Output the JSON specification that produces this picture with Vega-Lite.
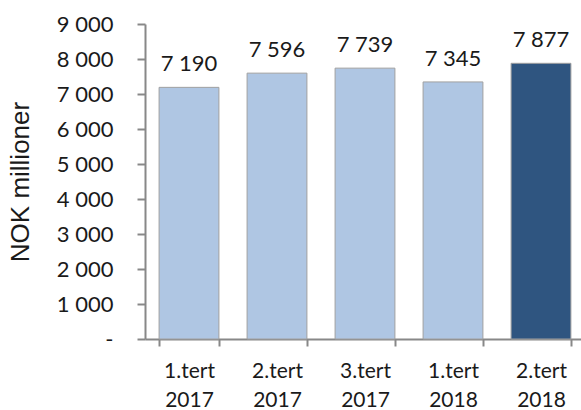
{
  "$schema": "https://vega.github.io/schema/vega-lite/v6.json",
  "width": 440,
  "height": 315,
  "autosize": {"type": "none"},
  "padding": {"left": 145, "top": 24, "right": 0, "bottom": 71},
  "background": "white",
  "config": {
    "view": {"stroke": null},
    "locale": {"number": {"decimal": ",", "thousands": " ", "grouping": [3], "currency": ["", " kr"]}},
    "font": "Lato"
  },
  "data": {
    "values": [
      {"periode": "1.tert 2017", "verdi": 7190, "siste": "nei"},
      {"periode": "2.tert 2017", "verdi": 7596, "siste": "nei"},
      {"periode": "3.tert 2017", "verdi": 7739, "siste": "nei"},
      {"periode": "1.tert 2018", "verdi": 7345, "siste": "nei"},
      {"periode": "2.tert 2018", "verdi": 7877, "siste": "ja"}
    ]
  },
  "encoding": {
    "x": {
      "field": "periode",
      "type": "nominal",
      "sort": null,
      "scale": {"paddingInner": 0.32, "paddingOuter": 0.16},
      "axis": {
        "title": null,
        "labelAngle": 0,
        "labelExpr": "isValid(datum.value) ? split(datum.value, ' ') : ''",
        "labelFontSize": 21,
        "labelColor": "#1a1a1a",
        "labelLineHeight": 29,
        "labelPadding": 14,
        "labelBaseline": "top",
        "domainColor": "#888888",
        "domainWidth": 2,
        "tickColor": "#888888",
        "tickWidth": 2,
        "tickSize": 7,
        "tickBand": "extent"
      }
    },
    "y": {
      "field": "verdi",
      "type": "quantitative",
      "scale": {"domain": [0, 9000], "nice": false},
      "axis": {
        "title": "NOK millioner",
        "titleFont": "Liberation Sans",
        "titleFontSize": 26,
        "titleFontWeight": "normal",
        "titleColor": "#1a1a1a",
        "titlePadding": 23,
        "values": [0, 1000, 2000, 3000, 4000, 5000, 6000, 7000, 8000, 9000],
        "format": ",d",
        "labelExpr": "datum.value == 0 ? '-' : datum.label",
        "labelFontSize": 22,
        "labelColor": "#1a1a1a",
        "labelPadding": 24,
        "grid": false,
        "domainColor": "#888888",
        "domainWidth": 2,
        "tickColor": "#888888",
        "tickWidth": 2,
        "tickSize": 8
      }
    }
  },
  "layer": [
    {
      "mark": {"type": "bar", "stroke": "#a0a0a0", "strokeWidth": 1},
      "encoding": {
        "color": {
          "field": "siste",
          "type": "nominal",
          "scale": {"domain": ["nei", "ja"], "range": ["#afc6e3", "#2f5580"]},
          "legend": null
        }
      }
    },
    {
      "mark": {"type": "text", "baseline": "alphabetic", "dy": -16, "fontSize": 22, "color": "#1a1a1a"},
      "encoding": {
        "text": {"field": "verdi", "type": "quantitative", "format": ",d"}
      }
    }
  ]
}
